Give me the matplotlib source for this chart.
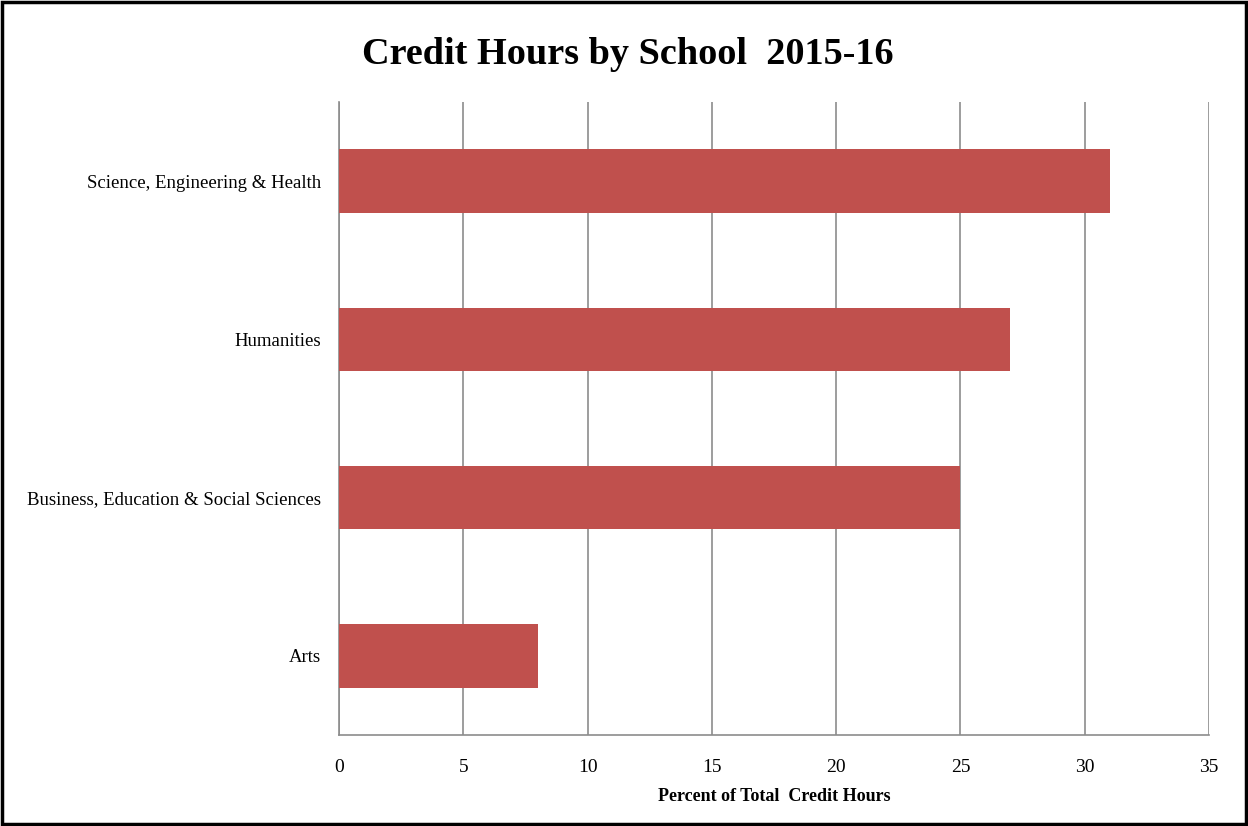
import matplotlib
matplotlib.use("Agg")
import matplotlib.pyplot as plt
from matplotlib.patches import Rectangle

schools = ["Arts", "Business, Education & Social Sciences", "Humanities",
           "Science, Engineering & Health"]
percent = [8, 25, 27, 31]
xticks = [0, 5, 10, 15, 20, 25, 30, 35]

plt.rcParams['font.family'] = ['Liberation Serif', 'DejaVu Serif']

fig = plt.figure(figsize=(12.48, 8.26), dpi=100)
ax = fig.add_axes([339 / 1248, 1 - 735 / 826, 870 / 1248, 633 / 826])

ax.barh(range(len(schools)), percent, height=0.4, color="#C0504D", zorder=3)
ax.set_ylim(-0.5, len(schools) - 0.5)
ax.set_xlim(0, 35)
ax.set_xticks(xticks)
ax.set_xticklabels([str(t) for t in xticks], fontsize=14)
ax.set_yticks(range(len(schools)))
ax.set_yticklabels(schools, fontsize=13.5)
ax.tick_params(length=0)
ax.tick_params(axis="x", pad=17)
ax.tick_params(axis="y", pad=13)
ax.grid(axis="x", color="#8c8c8c", linewidth=1.2, zorder=0)

for side in ["top", "right"]:
    ax.spines[side].set_visible(False)
for side in ["left", "bottom"]:
    ax.spines[side].set_color("#8c8c8c")
    ax.spines[side].set_linewidth(1.2)

ax.set_xlabel("Percent of Total  Credit Hours", fontsize=13, fontweight="bold", labelpad=9)
fig.text(0.503, 1 - 54 / 826, "Credit Hours by School  2015-16", ha="center", va="center",
         fontsize=27.5, fontweight="bold")

fig.patches.append(Rectangle((0.002, 0.002), 0.996, 0.996, transform=fig.transFigure,
                             fill=False, edgecolor="black", linewidth=2.5))

fig.savefig("out.png", dpi=100)
